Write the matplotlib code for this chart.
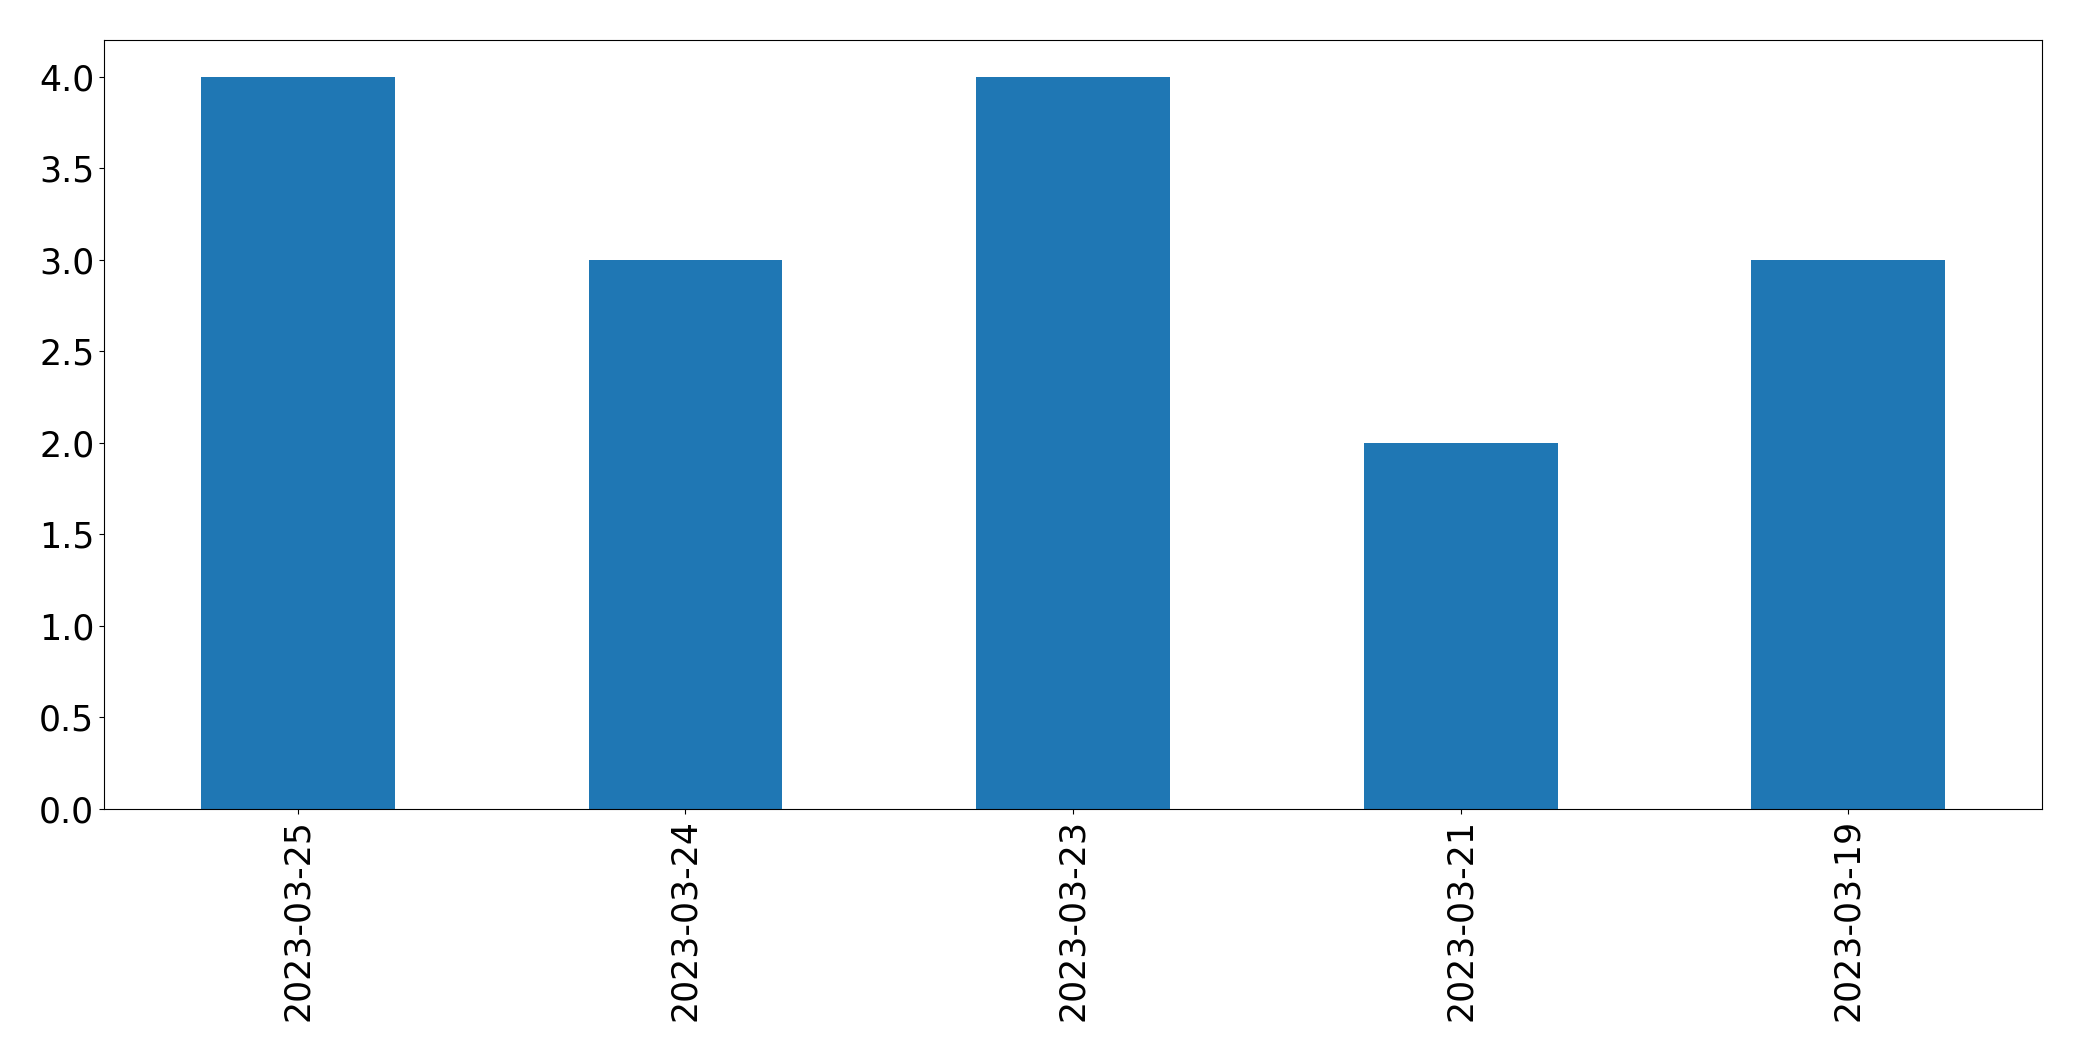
import pandas as pd
import matplotlib
matplotlib.use('Agg')
import matplotlib.pyplot as plt

# Datas e contagens
dates = ['2023-03-25', '2023-03-24', '2023-03-23', '2023-03-21', '2023-03-19']
counts = [4, 3, 4, 2, 3]

serie = pd.Series(counts, index=dates)

plt.rcParams['font.size'] = 25

fig = plt.figure(figsize=(20.82, 10.61), dpi=100)
ax = fig.add_axes([104 / 2082, 1 - 809 / 1061, (2042 - 104) / 2082, (809 - 40) / 1061])

serie.plot(kind='bar', ax=ax, color='#1f77b4')

fig.savefig('out.png', dpi=100)
